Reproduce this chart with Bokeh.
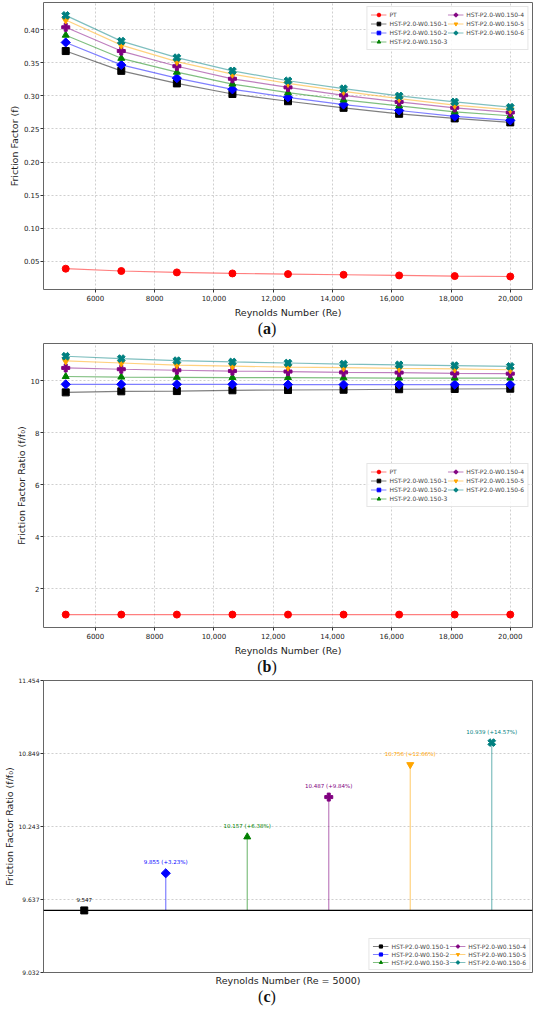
import numpy as np
from bokeh.plotting import figure
from bokeh.models import (ColumnDataSource, Legend, LegendItem, FixedTicker, Span, Div, Range1d)
from bokeh.layouts import column
from bokeh.embed import file_html
from bokeh.resources import INLINE
from bokeh.core.properties import value

# ---------------- data ----------------
re_vals = [5000, 6875, 8750, 10625, 12500, 14375, 16250, 18125, 20000]
names = ["PT", "HST-P2.0-W0.150-1", "HST-P2.0-W0.150-2", "HST-P2.0-W0.150-3",
         "HST-P2.0-W0.150-4", "HST-P2.0-W0.150-5", "HST-P2.0-W0.150-6"]

f_pt = [0.0385, 0.0350, 0.0329, 0.0313, 0.0303, 0.0293, 0.0283, 0.0273, 0.0267]
f_1 = [0.368, 0.338, 0.319, 0.303, 0.292, 0.282, 0.273, 0.266, 0.260]
f_2 = [0.381, 0.347, 0.327, 0.310, 0.298, 0.287, 0.278, 0.269, 0.263]
f_3 = [0.392, 0.357, 0.336, 0.318, 0.305, 0.294, 0.285, 0.276, 0.270]
f_4 = [0.404, 0.368, 0.345, 0.326, 0.313, 0.301, 0.291, 0.282, 0.275]
f_5 = [0.415, 0.377, 0.352, 0.333, 0.319, 0.307, 0.296, 0.286, 0.279]
f_6 = [0.422, 0.383, 0.358, 0.338, 0.323, 0.311, 0.300, 0.291, 0.283]

r_pt = [1.0, 1.0, 1.0, 1.0, 1.0, 1.0, 1.0, 1.0, 1.0]
r_1 = [9.55, 9.59, 9.60, 9.63, 9.64, 9.65, 9.67, 9.68, 9.69]
r_2 = [9.86, 9.86, 9.86, 9.86, 9.85, 9.85, 9.85, 9.85, 9.85]
r_3 = [10.16, 10.14, 10.13, 10.12, 10.12, 10.11, 10.10, 10.10, 10.10]
r_4 = [10.49, 10.44, 10.40, 10.37, 10.35, 10.32, 10.31, 10.28, 10.27]
r_5 = [10.76, 10.68, 10.60, 10.56, 10.52, 10.50, 10.47, 10.45, 10.42]
r_6 = [10.94, 10.85, 10.77, 10.72, 10.68, 10.64, 10.61, 10.58, 10.55]

x_ticks = [6000, 8000, 10000, 12000, 14000, 16000, 18000, 20000]
x_tick_labels = ["6000", "8000", "10,000", "12,000", "14,000", "16,000", "18,000", "20,000"]
a_yticks = [0.05, 0.10, 0.15, 0.20, 0.25, 0.30, 0.35, 0.40]
a_ytick_labels = ["0.05", "0.10", "0.15", "0.20", "0.25", "0.30", "0.35", "0.40"]
b_yticks = [2, 4, 6, 8, 10]
b_ytick_labels = ["2", "4", "6", "8", "10"]

c_values = [9.547, 9.855, 10.157, 10.487, 10.756, 10.939]
c_labels = ["9.547", "9.855 (+3.23%)", "10.157 (+6.38%)", "10.487 (+9.84%)",
            "10.756 (+12.66%)", "10.939 (+14.57%)"]
c_yticks = [9.032, 9.637, 10.243, 10.849, 11.454]
c_ytick_labels = ["9.032", "9.637", "10.243", "10.849", "11.454"]
c_baseline = 9.547

# ---------------- styles ----------------
colors = ["red", "black", "blue", "green", "purple", "orange", "teal"]
markers = ["circle", "square", "square", "triangle", "plus", "inverted_triangle", "plus"]
angles = [0, 0, np.pi / 4, 0, 0, 0, np.pi / 4]
sizes = [7, 7, 6.5, 7, 8, 7, 8]
FONT = "DejaVu Sans"
W = 534


def style(p):
    p.outline_line_color = "#666666"
    p.outline_line_width = 1
    for ax in (p.xaxis, p.yaxis):
        ax.axis_line_color = None
        ax.major_tick_in = 0
        ax.major_tick_out = 3
        ax.minor_tick_line_color = None
        ax.major_tick_line_color = "#333333"
        ax.major_label_text_font = FONT
        ax.major_label_text_font_size = "7px"
        ax.major_label_text_color = "#222222"
        ax.major_label_standoff = 2
        ax.axis_label_text_font = FONT
        ax.axis_label_text_font_size = "9.5px"
        ax.axis_label_text_font_style = "normal"
        ax.axis_label_text_color = "#222222"
        ax.axis_label_standoff = 3
    p.yaxis.axis_label_standoff = 1
    p.yaxis.major_label_standoff = 1
    p.background_fill_color = "white"
    p.border_fill_color = "white"


def style_legend(lg):
    lg.label_text_font = FONT
    lg.label_text_font_size = "6px"
    lg.label_height = 9
    lg.glyph_height = 9
    lg.glyph_width = 16
    lg.label_standoff = 3
    lg.spacing = 0
    lg.padding = 3
    lg.margin = 4
    lg.border_line_color = "#cccccc"
    lg.background_fill_alpha = 0.85


def xy_panel(series, y_range, yticks, ytick_labels, ylabel, loc, height, top):
    p = figure(width=W, height=height, output_backend="svg", toolbar_location=None,
               x_range=Range1d(4250, 20750), y_range=Range1d(*y_range),
               min_border_left=10, min_border_right=2, min_border_top=top, min_border_bottom=0)
    style(p)
    p.xaxis.ticker = FixedTicker(ticks=x_ticks)
    p.xaxis.major_label_overrides = {t: l for t, l in zip(x_ticks, x_tick_labels)}
    p.yaxis.ticker = FixedTicker(ticks=yticks)
    p.yaxis.major_label_overrides = {t: l for t, l in zip(yticks, ytick_labels)}
    p.xaxis.axis_label = "Reynolds Number (Re)"
    p.yaxis.axis_label = ylabel
    for g in (p.xgrid, p.ygrid):
        g.grid_line_color = "#bbbbbb"
        g.grid_line_dash = "2 2"
        g.grid_line_alpha = 0.7
    items = []
    for i, ys in enumerate(series):
        src = ColumnDataSource(dict(x=re_vals, y=ys))
        ln = p.line("x", "y", source=src, line_color=colors[i], line_alpha=0.5, line_width=1.2)
        sc = p.scatter("x", "y", source=src, marker=markers[i], size=sizes[i], angle=angles[i],
                       fill_color=colors[i], line_color=colors[i])
        items.append(LegendItem(label=names[i], renderers=[ln, sc]))
    lg = Legend(items=items, ncols=2, location=loc)
    style_legend(lg)
    p.add_layout(lg)
    return p


def caption(letter, height):
    return Div(text='(<b>%s</b>)' % letter, width=W, height=height, margin=0,
               styles={"text-align": "center", "font-size": "16px",
                       "font-family": "Liberation Serif", "line-height": "%dpx" % height,
                       "color": "#111111"})


pa = xy_panel([f_pt, f_1, f_2, f_3, f_4, f_5, f_6], (0.007, 0.4415), a_yticks, a_ytick_labels,
              "Friction Factor (f)", "top_right", 320, 2)
pb = xy_panel([r_pt, r_1, r_2, r_3, r_4, r_5, r_6], (0.503, 11.43), b_yticks, b_ytick_labels,
              "Friction Factor Ratio (f/f\u2080)", "center_right", 320, 5)

# ---------------- panel (c) ----------------
pc = figure(width=W, height=312, output_backend="svg", toolbar_location=None,
            x_range=Range1d(-0.5, 5.5), y_range=Range1d(9.032, 11.454),
            min_border_left=10, min_border_right=2, min_border_top=4, min_border_bottom=0)
style(pc)
pc.xaxis.ticker = FixedTicker(ticks=[])
pc.xaxis.major_tick_line_color = None
pc.xaxis.major_tick_out = 0
pc.xaxis.major_label_standoff = 0
pc.xaxis.major_label_text_font_size = "0px"
pc.xaxis.axis_label = "Reynolds Number (Re = 5000)"
pc.xaxis.axis_label_standoff = 2
pc.yaxis.ticker = FixedTicker(ticks=c_yticks)
pc.yaxis.major_label_overrides = {t: l for t, l in zip(c_yticks, c_ytick_labels)}
pc.yaxis.major_label_text_font_size = "6px"
pc.yaxis.axis_label = "Friction Factor Ratio (f/f\u2080)"
pc.xgrid.grid_line_color = None
pc.ygrid.grid_line_color = "#bbbbbb"
pc.ygrid.grid_line_dash = "2 2"
pc.ygrid.grid_line_alpha = 0.7
pc.add_layout(Span(location=c_baseline, dimension="width", line_color="black", line_width=1.2))

c_items = []
for j, v in enumerate(c_values):
    i = j + 1
    src = ColumnDataSource(dict(x=[j], y=[v], y0=[c_baseline], t=[c_labels[j]]))
    st = pc.segment(x0="x", y0="y0", x1="x", y1="y", source=src, line_color=colors[i],
                    line_alpha=0.5, line_width=1.2)
    sc = pc.scatter("x", "y", source=src, marker=markers[i], size=sizes[i], angle=angles[i],
                    fill_color=colors[i], line_color=colors[i])
    pc.text("x", "y", text="t", source=src, text_color=colors[i], text_font=value(FONT),
            text_font_size="5.5px", text_align="center", text_baseline="bottom", y_offset=-8)
    c_items.append(LegendItem(label=names[i], renderers=[st, sc]))
lc = Legend(items=c_items, ncols=2, location="bottom_right")
style_legend(lc)
lc.label_height = 8
lc.glyph_height = 8
lc.margin = 2
pc.add_layout(lc)

layout = column(pa, caption("a", 18), pb, caption("b", 18), pc, caption("c", 18), spacing=0)

open("out.html", "w").write(file_html(layout, INLINE))
